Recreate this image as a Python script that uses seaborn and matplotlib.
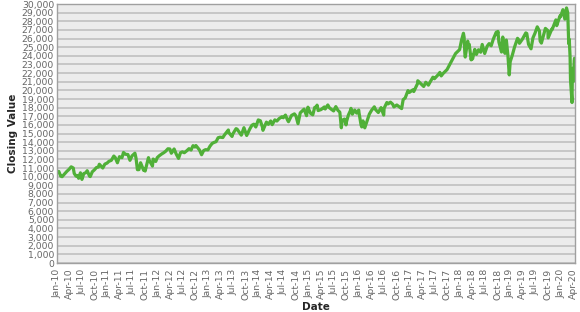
import pandas as pd
import matplotlib
matplotlib.use("Agg")
import matplotlib.pyplot as plt
import matplotlib.dates as mdates
import matplotlib.ticker as mticker
import seaborn as sns

# Approximate closing values (roughly two points per month)
dates = [
    "2010-01-04", "2010-01-15", "2010-01-29", "2010-02-08", "2010-02-26", "2010-03-15", "2010-03-31",
    "2010-04-15", "2010-04-30", "2010-05-07", "2010-05-20", "2010-05-31", "2010-06-08", "2010-06-21",
    "2010-06-30", "2010-07-02", "2010-07-15", "2010-07-30", "2010-08-09", "2010-08-26", "2010-08-31",
    "2010-09-15", "2010-09-30", "2010-10-15", "2010-10-29", "2010-11-05", "2010-11-30", "2010-12-15",
    "2010-12-31",
    "2011-01-14", "2011-01-31", "2011-02-18", "2011-02-28", "2011-03-16", "2011-03-31", "2011-04-18",
    "2011-04-29", "2011-05-13", "2011-05-31", "2011-06-15", "2011-06-30", "2011-07-21", "2011-07-29",
    "2011-08-08", "2011-08-19", "2011-08-31", "2011-09-22", "2011-09-30", "2011-10-03", "2011-10-27",
    "2011-10-31", "2011-11-25", "2011-11-30", "2011-12-19", "2011-12-30",
    "2012-01-13", "2012-01-31", "2012-02-15", "2012-02-29", "2012-03-16", "2012-03-30", "2012-04-10",
    "2012-04-30", "2012-05-15", "2012-06-01", "2012-06-15", "2012-06-29", "2012-07-13", "2012-07-31",
    "2012-08-16", "2012-08-31", "2012-09-14", "2012-09-28", "2012-10-05", "2012-10-31", "2012-11-15",
    "2012-11-30", "2012-12-14", "2012-12-31",
    "2013-01-15", "2013-01-31", "2013-02-15", "2013-02-28", "2013-03-15", "2013-03-29", "2013-04-18",
    "2013-04-30", "2013-05-28", "2013-05-31", "2013-06-24", "2013-06-28", "2013-07-23", "2013-07-31",
    "2013-08-30", "2013-09-18", "2013-09-30", "2013-10-08", "2013-10-31", "2013-11-15", "2013-11-29",
    "2013-12-13", "2013-12-31",
    "2014-01-15", "2014-01-31", "2014-02-03", "2014-02-28", "2014-03-14", "2014-03-31", "2014-04-11",
    "2014-04-30", "2014-05-15", "2014-05-30", "2014-06-20", "2014-06-30", "2014-07-16", "2014-07-31",
    "2014-08-07", "2014-08-29", "2014-09-19", "2014-09-30", "2014-10-15", "2014-10-31", "2014-11-28",
    "2014-12-16", "2014-12-26", "2014-12-31",
    "2015-01-15", "2015-01-30", "2015-02-13", "2015-02-27", "2015-03-02", "2015-03-10", "2015-03-31",
    "2015-04-24", "2015-04-30", "2015-05-19", "2015-05-29", "2015-06-15", "2015-06-30", "2015-07-16",
    "2015-07-31", "2015-08-14", "2015-08-25", "2015-08-31", "2015-09-17", "2015-09-28", "2015-09-30",
    "2015-10-15", "2015-10-30", "2015-11-03", "2015-11-13", "2015-11-30", "2015-12-14", "2015-12-29",
    "2015-12-31",
    "2016-01-15", "2016-01-20", "2016-01-29", "2016-02-11", "2016-02-29", "2016-03-15", "2016-03-31",
    "2016-04-20", "2016-04-29", "2016-05-19", "2016-05-31", "2016-06-08", "2016-06-27", "2016-06-30",
    "2016-07-20", "2016-07-29", "2016-08-15", "2016-08-31", "2016-09-09", "2016-09-30", "2016-10-14",
    "2016-11-04", "2016-11-15", "2016-11-30", "2016-12-20", "2016-12-30",
    "2017-01-25", "2017-01-31", "2017-02-28", "2017-03-01", "2017-03-31", "2017-04-13", "2017-04-28",
    "2017-05-17", "2017-05-31", "2017-06-19", "2017-06-30", "2017-07-31", "2017-08-08", "2017-08-18",
    "2017-08-31", "2017-09-29", "2017-10-31", "2017-11-30", "2017-12-29",
    "2018-01-12", "2018-01-26", "2018-01-31", "2018-02-05", "2018-02-08", "2018-02-26", "2018-02-28",
    "2018-03-09", "2018-03-23", "2018-03-29", "2018-04-02", "2018-04-18", "2018-04-30", "2018-05-15",
    "2018-05-31", "2018-06-11", "2018-06-29", "2018-07-17", "2018-07-31", "2018-08-15", "2018-08-31",
    "2018-09-21", "2018-09-28", "2018-10-03", "2018-10-10", "2018-10-29", "2018-10-31", "2018-11-07",
    "2018-11-23", "2018-11-30", "2018-12-03", "2018-12-14", "2018-12-24", "2018-12-31",
    "2019-01-15", "2019-01-31", "2019-02-22", "2019-02-28", "2019-03-08", "2019-03-29", "2019-04-23",
    "2019-04-30", "2019-05-13", "2019-05-31", "2019-06-14", "2019-06-28", "2019-07-15", "2019-07-31",
    "2019-08-05", "2019-08-14", "2019-08-30", "2019-09-12", "2019-09-30", "2019-10-02", "2019-10-28",
    "2019-10-31", "2019-11-27", "2019-11-29", "2019-12-03", "2019-12-27", "2019-12-31",
    "2020-01-17", "2020-01-31", "2020-02-12", "2020-02-21", "2020-02-28", "2020-03-03", "2020-03-09",
    "2020-03-12", "2020-03-16", "2020-03-23", "2020-03-26", "2020-03-31", "2020-04-03", "2020-04-08",
    "2020-04-10",
]
closing = [
    10583, 10610, 10067, 10000, 10325, 10625, 10857,
    11145, 11009, 10380, 10068, 10137, 9816, 10450,
    9774, 9686, 10360, 10466, 10698, 10060, 10015,
    10572, 10788, 11062, 11118, 11444, 11006, 11457,
    11578,
    11787, 11892, 12391, 12226, 11613, 12320, 12201,
    12811, 12596, 12570, 11897, 12414, 12724, 12143,
    10810, 10817, 11614, 10733, 10913, 10655, 12208,
    11955, 11231, 12046, 11767, 12218,
    12422, 12633, 12781, 12952, 13233, 13212, 12716,
    13214, 12632, 12119, 12767, 12880, 12777, 13009,
    13250, 13091, 13593, 13437, 13610, 13096, 12542,
    13026, 13135, 13104,
    13534, 13861, 13981, 14054, 14514, 14579, 14537,
    14840, 15409, 15116, 14660, 14910, 15567, 15500,
    14810, 15676, 15130, 14776, 15546, 15962, 16086,
    15755, 16577,
    16481, 15699, 15373, 16322, 16065, 16458, 16027,
    16581, 16447, 16717, 16947, 16827, 17138, 16563,
    16368, 17098, 17280, 17043, 16141, 17391, 17828,
    17068, 18053, 17823,
    17320, 17165, 18019, 18133, 18288, 17662, 17776,
    18080, 17841, 18312, 18011, 17791, 17620, 18120,
    17690, 17477, 15666, 16528, 16675, 16001, 16285,
    17141, 17664, 17918, 17245, 17720, 17368, 17720,
    17425,
    15988, 15766, 16466, 15660, 16517, 17251, 17685,
    18096, 17774, 17435, 17787, 18005, 17140, 17930,
    18595, 18432, 18636, 18401, 18085, 18308, 18138,
    17888, 18923, 19124, 19974, 19763,
    20069, 19864, 20812, 21115, 20663, 20453, 20941,
    20606, 21009, 21528, 21350, 21891, 22085, 21675,
    21948, 22405, 23377, 24272, 24719,
    25803, 26616, 26149, 24345, 23860, 25709, 25029,
    25336, 23533, 24103, 23644, 24748, 24163, 24706,
    24416, 25322, 24271, 25119, 25415, 25162, 25965,
    26744, 26458, 26828, 25598, 24443, 25116, 26180,
    24286, 25538, 25826, 24100, 21792, 23327,
    24065, 24999, 26031, 25916, 25450, 25929, 26656,
    26593, 25324, 24815, 26090, 26600, 27359, 26864,
    25718, 25479, 26403, 27182, 26917, 26079, 27091,
    27046, 28164, 28051, 27502, 28645, 28538,
    29348, 28256, 29551, 28992, 25409, 25917, 23851,
    21200, 20188, 18592, 22552, 21917, 21052, 23433,
    23719,
]

df = pd.DataFrame({"Date": pd.to_datetime(dates), "Closing Value": closing})

sns.set_style("whitegrid", {"axes.facecolor": "#ececec", "grid.color": "#c6c6c6",
                            "axes.edgecolor": "#a0a0a0"})
plt.rcParams["font.family"] = ["DejaVu Sans"]

fig = plt.figure(figsize=(5.8, 3.12), dpi=100)
ax = fig.add_axes([0.098, 0.157, 0.893, 0.830])

sns.lineplot(data=df, x="Date", y="Closing Value", ax=ax, color="#50b038", linewidth=2.3)

ax.set_ylim(0, 30000)
ax.set_xlim(pd.Timestamp("2010-01-01"), pd.Timestamp("2020-04-12"))
ax.yaxis.set_major_locator(mticker.MultipleLocator(1000))
ax.yaxis.set_major_formatter(mticker.FuncFormatter(lambda v, p: f"{int(v):,}"))
ax.xaxis.set_major_locator(mdates.MonthLocator(bymonth=[1, 4, 7, 10]))
ax.xaxis.set_major_formatter(mdates.DateFormatter("%b-%y"))
ax.grid(axis="x", visible=False)
ax.grid(axis="y", linewidth=1.4)

ax.tick_params(axis="x", labelrotation=90, labelsize=6.7, colors="#666666", length=3, pad=1)
ax.tick_params(axis="y", labelsize=6.7, colors="#666666", length=0, pad=2)

ax.set_xlabel("Date", fontsize=7.5, fontweight="bold", labelpad=2)
ax.set_ylabel("Closing Value", fontsize=7.5, fontweight="bold", labelpad=3)
for s in ax.spines.values():
    s.set_linewidth(1.0)

fig.savefig("out.png", dpi=100)
